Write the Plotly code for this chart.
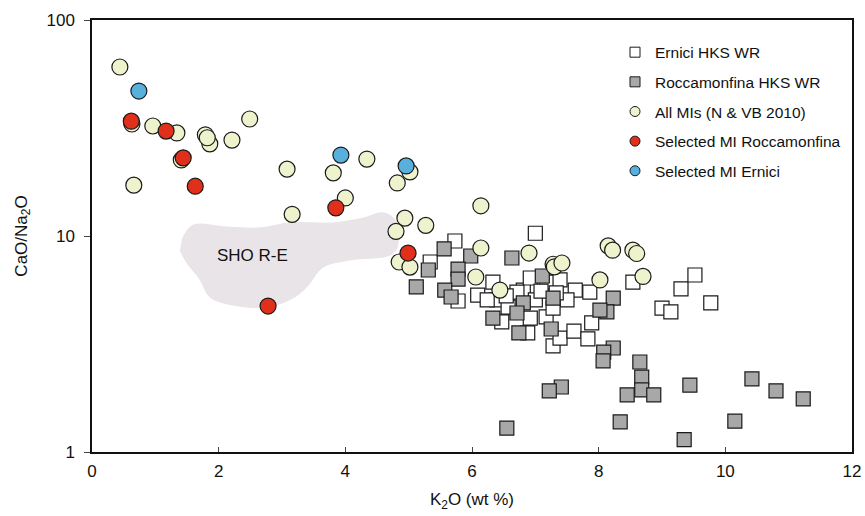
import plotly.graph_objects as go

# Ernici HKS WR (white squares)
ern_k2o = [7.0, 5.73, 5.34, 5.78, 6.09, 6.33, 6.39, 6.47, 6.57, 6.81, 6.92, 6.71, 6.88, 7.28, 7.39,
           7.61, 7.83, 7.89, 7.86, 7.63, 7.5, 7.17, 7.0, 7.18, 7.39, 7.28, 6.92, 8.54, 9.0, 9.14,
           9.3, 9.52, 9.77, 7.09, 7.33, 6.54, 6.24]
ern_ratio = [10.3, 9.48, 7.58, 5.0, 5.33, 6.12, 5.06, 4.0, 4.69, 5.62, 6.39, 5.5, 3.56, 3.1, 3.37,
             3.63, 3.34, 3.96, 5.5, 5.62, 5.06, 4.22, 5.06, 6.12, 6.26, 4.64, 4.17, 6.12, 4.64, 4.45,
             5.69, 6.6, 4.9, 5.56, 5.45, 5.28, 5.06]

# Roccamonfina HKS WR (grey squares)
roc_k2o = [5.12, 5.31, 5.56, 5.98, 5.78, 5.78, 5.57, 5.67, 6.63, 7.11, 7.28, 6.81, 6.71, 6.33, 6.74,
           7.25, 8.23, 8.13, 8.02, 8.23, 8.08, 8.07, 8.65, 8.68, 8.68, 8.45, 8.87, 7.41, 7.22, 8.34,
           6.55, 9.44, 10.42, 10.8, 11.23, 10.15, 9.35]
roc_ratio = [5.81, 6.96, 8.71, 8.08, 7.03, 6.32, 5.62, 5.22, 7.91, 6.53, 5.16, 4.9, 4.4, 4.17, 3.56,
             3.71, 5.16, 4.45, 4.54, 3.03, 2.9, 2.64, 2.61, 2.22, 1.94, 1.84, 1.84, 2.0, 1.92, 1.38,
             1.29, 2.04, 2.18, 1.92, 1.76, 1.39, 1.14]

# All MIs (N & VB 2010)
mi_k2o = [0.44, 0.63, 0.66, 0.96, 1.34, 1.41, 1.79, 1.86, 1.82, 2.21, 2.49, 3.08, 3.16, 4.34, 3.81,
          4.0, 5.02, 4.82, 4.94, 4.8, 5.27, 4.85, 5.02, 6.14, 6.14, 6.9, 6.06, 6.44, 7.28, 7.3,
          7.42, 8.15, 8.22, 8.54, 8.6, 8.02, 8.7]
mi_ratio = [60.6, 33.0, 17.2, 32.3, 30.0, 22.5, 29.4, 26.7, 28.5, 27.8, 34.8, 20.4, 12.6, 22.7, 19.6,
            15.0, 19.8, 17.6, 12.1, 10.5, 11.2, 7.58, 7.18, 13.8, 8.8, 8.34, 6.46, 5.62, 7.4, 7.2,
            7.5, 9.0, 8.6, 8.6, 8.3, 6.26, 6.5]

# Selected MI Roccamonfina
sr_k2o = [0.62, 1.17, 1.44, 1.63, 3.85, 4.99, 2.78]
sr_ratio = [34.0, 30.6, 23.0, 17.0, 13.5, 8.34, 4.74]

# Selected MI Ernici
se_k2o = [0.74, 3.93, 4.96]
se_ratio = [46.9, 23.7, 21.1]

# SHO R-E field outline
sho_k2o = [1.42, 1.59, 2.13, 2.65, 3.13, 3.81, 4.28, 4.59, 4.78, 4.82, 4.71, 4.07, 3.65, 3.39,
           3.17, 2.76, 2.23, 1.86, 1.71, 1.5, 1.39]
sho_ratio = [9.58, 11.2, 11.0, 10.9, 11.5, 11.5, 12.1, 12.8, 11.9, 8.89, 8.17, 7.74, 7.18, 5.81,
             5.16, 4.69, 4.79, 5.22, 6.26, 7.5, 8.61]

x_ticks = [0, 2, 4, 6, 8, 10, 12]
y_ticks = [1, 10, 100]

FONT = "Liberation Sans, Arial, Helvetica, sans-serif"
EDGE = "#1a1a1a"
WHITE = "#ffffff"
GREY = "#a8a8a8"
YELLOW = "#eef3cd"
RED = "#e0301b"
BLUE = "#58b0dd"

fig = go.Figure()

fig.add_trace(go.Scatter(x=sho_k2o, y=sho_ratio, mode="lines", fill="toself",
                         fillcolor="#e9e4e7", line=dict(color="#e9e4e7", width=1, shape="spline", smoothing=1.0),
                         hoverinfo="skip", showlegend=False))

def pts(x, y, sym, size, color, name):
    fig.add_trace(go.Scatter(x=x, y=y, mode="markers", name=name, showlegend=False,
                             marker=dict(symbol=sym, size=size, color=color,
                                         line=dict(color=EDGE, width=1.2))))

pts(ern_k2o, ern_ratio, "square", 14, WHITE, "Ernici HKS WR")
pts(roc_k2o, roc_ratio, "square", 14, GREY, "Roccamonfina HKS WR")
pts(mi_k2o, mi_ratio, "circle", 16, YELLOW, "All MIs (N & VB 2010)")
pts(sr_k2o, sr_ratio, "circle", 16, RED, "Selected MI Roccamonfina")
pts(se_k2o, se_ratio, "circle", 16, BLUE, "Selected MI Ernici")

legend_items = [("Ernici HKS WR", "square", WHITE), ("Roccamonfina HKS WR", "square", GREY),
                ("All MIs (N & VB 2010)", "circle", YELLOW), ("Selected MI Roccamonfina", "circle", RED),
                ("Selected MI Ernici", "circle", BLUE)]
for i, (nm, sym, col) in enumerate(legend_items):
    fig.add_trace(go.Scatter(x=[None], y=[None], mode="markers", name=nm, legendgroup=f"g{i}",
                             marker=dict(symbol=sym, size=10, color=col, line=dict(color=EDGE, width=1))))

fig.add_annotation(x=2.54, y=0.912, xref="x", yref="y", text="SHO R-E", showarrow=False,
                   font=dict(size=17, color="#111", family=FONT))

fig.update_layout(
    width=865, height=516,
    margin=dict(l=92, r=13, t=20, b=64, autoexpand=False),
    paper_bgcolor="white", plot_bgcolor="white",
    font=dict(family=FONT, color="#111", size=16),
    legend=dict(x=0.711, y=0.931, xref="container", yref="container",
                xanchor="left", yanchor="top", bgcolor="rgba(0,0,0,0)",
                font=dict(size=15.5, family=FONT), tracegroupgap=6.5, traceorder="grouped"),
    xaxis=dict(range=[0, 12], tickvals=x_ticks, ticks="inside", ticklen=5, tickwidth=1,
               showline=True, linewidth=1.5, linecolor="#111", mirror=True, showgrid=False,
               zeroline=False, tickfont=dict(size=17), ticklabelstandoff=3, automargin=False,
               title=dict(text="K<sub>2</sub>O (wt %)", font=dict(size=17), standoff=13)),
    yaxis=dict(type="log", range=[0, 2], tickvals=y_ticks, ticktext=["1", "10", "100"],
               ticks="outside", ticklen=6, tickwidth=1, ticklabelstandoff=6, automargin=False,
               showline=True, linewidth=1.5, linecolor="#111", mirror=True, showgrid=False,
               zeroline=False, tickfont=dict(size=17),
               title=dict(text="CaO/Na<sub>2</sub>O", font=dict(size=17), standoff=15)),
)

fig.write_html("out.html", config={"displayModeBar": False},
               post_script="document.body.style.margin='0';document.body.style.overflow='hidden';")
